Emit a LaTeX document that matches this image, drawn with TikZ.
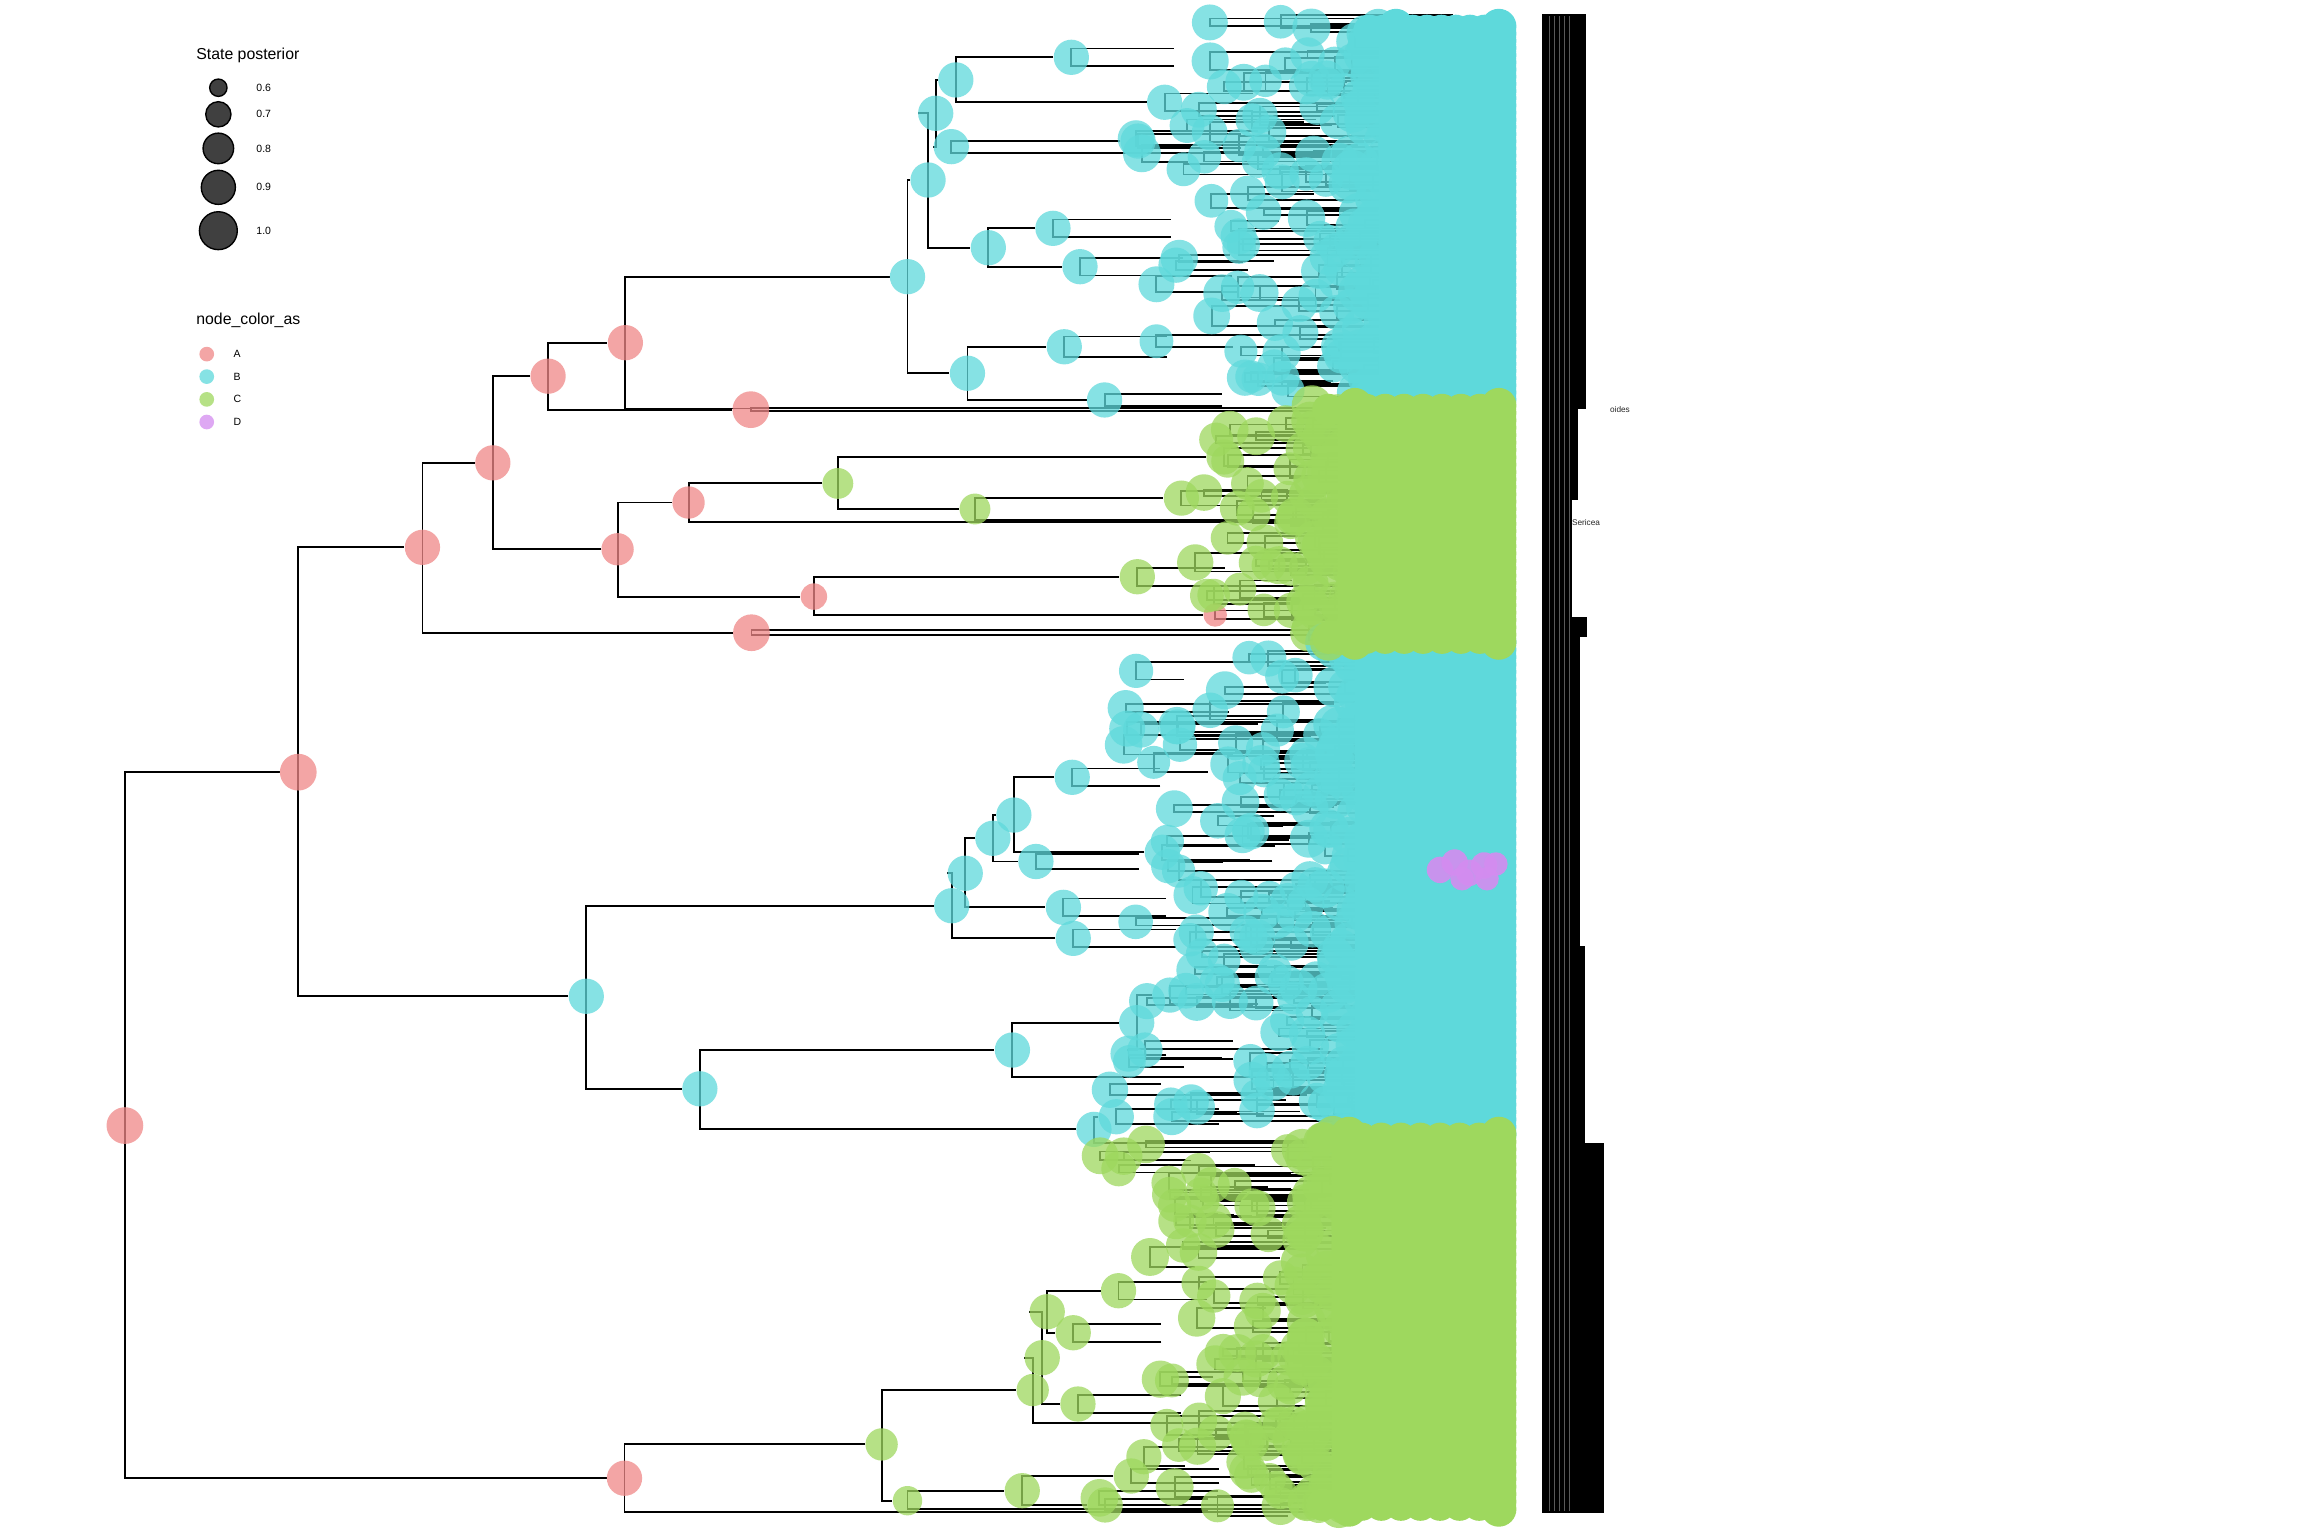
\documentclass[tikz,border=0pt]{standalone}
\usepackage{fontspec}
\setmainfont{Liberation Sans}
\usetikzlibrary{calc}
\definecolor{cA}{RGB}{240,136,135}
\definecolor{cB}{RGB}{94,217,219}
\definecolor{cC}{RGB}{158,216,94}
\definecolor{cD}{RGB}{212,140,240}
\pgfdeclarelayer{back}
\pgfdeclarelayer{bg}
\pgfsetlayers{back,bg,main}
\tikzset{
  branch/.style={line width=1.1pt, black},
  anc/.style={circle, fill=#1, fill opacity=0.75, draw=none, inner sep=0pt, minimum size=0.72cm},
  rad/.style={minimum size=#1*0.06cm},
  key/.style={circle, fill=black!75, draw=black, line width=0.8pt, inner sep=0pt},
  keytxt/.style={anchor=west, font=\fontsize{6.1}{7}\selectfont, inner sep=0pt},
  keyhead/.style={anchor=west, font=\fontsize{9.2}{11}\selectfont, inner sep=0pt},
  tiptxt/.style={anchor=west, font=\fontsize{4.8}{5}\selectfont, inner sep=0pt, text=black!85}
}
% two short lines to the right of a node
\newcommand{\tipstub}[3]{\draw[branch] ($(#1.center)+(#3,#2)$) -| ($(#1.center)+(0,-#2)$) -- ++(#3,0);}
% scattered descendants of one clade (#7=1: branches, #7=2: circles)
\newcommand{\cladecloud}[7]{%
  \foreach \k in {1,...,#6}{%
    \pgfmathsetmacro{\cy}{#1+(#2-#1)*rnd}%
    \pgfmathsetmacro{\cx}{#3+(#4+30-#3)*sqrt(rnd)}%
    \pgfmathsetmacro{\ch}{2+5*rnd}%
    \pgfmathsetmacro{\ca}{min(1030,\cx+25+140*rnd)}%
    \pgfmathsetmacro{\cb}{min(1030,\cx+25+140*rnd)}%
    \pgfmathsetmacro{\cr}{11+2*rnd}%
    \ifnum#7=1
      \draw[branch] (\ca,\cy-\ch) -| (\cx,\cy+\ch) -- (\cb,\cy+\ch);
    \else
      \fill[#5, fill opacity=0.75] (\cx,\cy) circle[radius=\cr];
    \fi
  }}
% the crowded tips of one clade
\newcommand{\cladeblob}[5]{%
  \fill[#4] (#3+16,#1) rectangle (1020,#2);
  \foreach \k in {0,...,#5}{%
    \pgfmathsetmacro{\by}{#1+(#2-#1)/#5*\k}%
    \pgfmathsetmacro{\bx}{#3-15+35*rnd}%
    \pgfmathsetmacro{\br}{12+2*rnd}%
    \fill[#4, fill opacity=0.8] (\bx,\by) circle[radius=\br];
    \fill[#4] (#3+18,\by) circle[radius=12];
    \fill[#4] (1020,\by) circle[radius=12];
  }
  \foreach \k in {0,...,9}{%
    \pgfmathsetmacro{\bx}{#3+(1020-#3)/9*\k}%
    \fill[#4] (\bx,#1+3) circle[radius=11];
    \fill[#4] (\bx,#2-3) circle[radius=11];
  }}

\begin{document}
\begin{tikzpicture}[x=0.03cm, y=-0.03cm]
\begin{pgfonlayer}{back}
  \fill[white] (0,0) rectangle (1568,1045);
\end{pgfonlayer}
\useasboundingbox (0,0) rectangle (1568,1045);

% legend: state posterior
\node[keyhead] (sp) at (133.4,37.4) {State posterior};
\foreach \v/\yy/\rr [count=\i] in {0.6/59.7/5.9, 0.7/77.8/8.6, 0.8/101/10.4, 0.9/127.5/11.6, 1.0/157/12.9}{
  \node[key, minimum size=2*\rr*0.03cm] (k\i) at (148.6,\yy) {};
  \node[keytxt] (kl\i) at (174.3,\yy) {\v};
}
% legend: colours
\node[keyhead] (nca) at (133.4,218.2) {node\_color\_as};
\foreach \s/\c/\yy in {A/cA/241, B/cB/256.3, C/cC/271.8, D/cD/287.2}{
  \node[anc=\c, minimum size=0.3cm] (d\s) at (140.7,\yy) {};
  \node[keytxt] (dl\s) at (158.7,\yy) {\s};
}

% backbone
\node[anc=cA, rad=12.5] (R)   at (85,766) {};
\node[anc=cA, rad=12.5] (N1)  at (203,525.5) {};
\node[anc=cA, rad=12]   (N2)  at (287.5,372.5) {};
\node[anc=cA, rad=12]   (N3)  at (335.4,315) {};
\node[anc=cA, rad=12]   (N4)  at (373,256) {};
\node[anc=cA, rad=12]   (N5)  at (425.6,233.2) {};
\node[anc=cA, rad=12.5] (N6)  at (511,278.8) {};
\node[anc=cA, rad=11]   (N7)  at (420.3,373.8) {};
\node[anc=cA, rad=11]   (N8)  at (468.6,342) {};
\node[anc=cA, rad=9]    (N9)  at (553.9,406) {};
\node[anc=cA, rad=12.5] (N10) at (511.4,430.6) {};
\node[anc=cA, rad=8]    (N11) at (827,418.5) {};
\node[anc=cA, rad=12]   (NA2) at (425,1006) {};
% top B clade
\node[anc=cB, rad=12] (NB1) at (617.6,188.3) {};
\node[anc=cB, rad=12] (T1)  at (631.6,122.5) {};
\node[anc=cB, rad=12] (T2)  at (658.4,254) {};
\node[anc=cB, rad=12] (T3)  at (636.8,77.1) {};
\node[anc=cB, rad=12] (T4)  at (672.6,168.6) {};
\node[anc=cB, rad=12] (T5)  at (650.5,54.4) {};
\node[anc=cB, rad=12] (T6)  at (647.4,99.8) {};
\node[anc=cB, rad=12] (T7)  at (729.1,39) {};
\node[anc=cB, rad=12] (T8)  at (792.6,69.6) {};
\node[anc=cB, rad=12] (T9)  at (774.5,96) {};
\node[anc=cB, rad=12] (T10) at (716.6,155.4) {};
\node[anc=cB, rad=12] (T11) at (735,181.5) {};
\node[anc=cB, rad=12] (T12) at (724.3,236) {};
\node[anc=cB, rad=12] (T13) at (751.7,272.2) {};
% upper C clade
\node[anc=cC, rad=10.5] (NC1) at (570.2,329) {};
\node[anc=cC, rad=10.5] (NC2) at (663.5,346.4) {};
\node[anc=cC, rad=12]   (NC6) at (774,392.5) {};
\node[anc=cC, rad=12]   (G1)  at (833,311) {};
\node[anc=cC, rad=12]   (G2)  at (804,339) {};
% middle B clade
\node[anc=cB, rad=12] (NB2) at (399,678) {};
\node[anc=cB, rad=12] (NB3) at (647.7,616.4) {};
\node[anc=cB, rad=12] (NB4) at (476.3,741) {};
\node[anc=cB, rad=12] (NB5) at (689,714.6) {};
\node[anc=cB, rad=12] (NB6) at (744.5,768.6) {};
\node[anc=cB, rad=12] (M1)  at (656.9,594.3) {};
\node[anc=cB, rad=12] (M2)  at (730.4,638.6) {};
\node[anc=cB, rad=12] (M3)  at (675.7,570.5) {};
\node[anc=cB, rad=12] (M4)  at (723.7,617.5) {};
\node[anc=cB, rad=12] (M5)  at (690,554.7) {};
\node[anc=cB, rad=12] (M6)  at (705,586.3) {};
\node[anc=cB, rad=12] (M7)  at (729.7,529) {};
\node[anc=cB, rad=12] (M12) at (791,580) {};
\node[anc=cB, rad=12] (M8)  at (773.6,696) {};
\node[anc=cB, rad=12] (M9)  at (796.2,677.2) {};
\node[anc=cB, rad=12] (M10) at (779.2,714.6) {};
\node[anc=cB, rad=12] (M11) at (759.7,760) {};
% lower C clade
\node[anc=cC, rad=11] (NC3) at (600,983) {};
\node[anc=cC, rad=11] (NC4) at (702.8,946) {};
\node[anc=cC, rad=10] (NC5) at (617.6,1021.3) {};
\node[anc=cC, rad=12] (G3)  at (709.3,924) {};
\node[anc=cC, rad=12] (G4)  at (712.7,892.7) {};
\node[anc=cC, rad=12] (G5)  at (733.6,955.5) {};
\node[anc=cC, rad=12] (G6)  at (761.2,878.4) {};
\node[anc=cC, rad=12] (G7)  at (730.4,907) {};
\node[anc=cC, rad=12] (G8)  at (695.7,1014.5) {};
\node[anc=cC, rad=12] (G9)  at (769.9,1004.5) {};
\node[anc=cC, rad=12] (G10) at (752.1,1024.2) {};

% tip ends of single lineages
\coordinate (x5)  at (1030,278);
\coordinate (x6)  at (1030,104.3);
\coordinate (x8)  at (1030,355);
\coordinate (xc2) at (1030,353.7);
\coordinate (xb5) at (1030,732.7);
\coordinate (xb6) at (1030,777.7);
\coordinate (xc4) at (1030,968.6);
\coordinate (xa2) at (1030,1029);
\coordinate (xc5) at (1030,1027);

\begin{pgfonlayer}{bg}
  \foreach \p/\c in {R/N1, R/NA2, N1/N2, N1/NB2, N2/N3, N2/N10, N3/N4, N3/N7, N4/N5, N4/N6,
      N5/NB1, N7/N8, N7/N9, N8/NC1, NC1/G1, NC1/NC2, NC2/G2, N9/NC6, N9/N11,
      NB1/T1, NB1/T2, T1/T3, T1/T4, T3/T5, T3/T6, T5/T7, T5/T8, T6/T9, T4/T10, T4/T11, T2/T12, T2/T13,
      NB2/NB3, NB2/NB4, NB3/M1, NB3/M2, M1/M3, M1/M4, M3/M5, M3/M6, M5/M7, M5/M12,
      NB4/NB5, NB4/NB6, NB5/M8, M8/M9, M8/M10, NB6/M11,
      NA2/NC3, NC3/NC4, NC3/NC5, NC4/G3, G3/G4, G3/G5, G4/G6, G4/G7, NC5/G8, G8/G9, G8/G10,
      N5/x5, T6/x6, N8/x8, NC2/xc2, NB5/xb5, NB6/xb6, NC4/xc4, NA2/xa2, NC5/xc5}
    {\draw[branch] (\p.center) |- (\c);}
  \foreach \n/\h/\lenx in {T7/6/70, T8/6/60, T9/5/70, T10/6/80, T11/6/70, T12/7/70, T13/4/80,
      G1/6/60, G2/5/60, NC6/6/60, N11/3/100, N6/1.2/520, N10/1.7/520,
      M2/6/70, M4/6/70, M6/5/70, M7/6/60, M12/5/60, M9/6/60, M10/6/60, M11/5/70,
      G5/6/70, G6/6/60, G7/6/60, G9/5/60, G10/4/70}
    {\tipstub{\n}{\h}{\lenx}}
  % branches of the crowded tips
  \pgfmathsetseed{2024}
  \cladecloud{14}{270}{760}{935}{cB}{130}{1}
  \cladecloud{283}{436}{790}{912}{cC}{80}{1}
  \cladecloud{440}{772}{735}{925}{cB}{170}{1}
  \cladecloud{778}{1026}{735}{910}{cC}{130}{1}
\end{pgfonlayer}

% crowded tips
\pgfmathsetseed{2024}
\cladecloud{14}{270}{760}{935}{cB}{130}{2}
\cladecloud{283}{436}{790}{912}{cC}{80}{2}
\cladecloud{440}{772}{735}{925}{cB}{170}{2}
\cladecloud{778}{1026}{735}{910}{cC}{130}{2}
\cladeblob{18}{272}{932}{cB}{52}
\cladeblob{437}{772}{916}{cB}{66}
\cladeblob{276}{437}{904}{cC}{32}
\cladeblob{772}{1027}{900}{cC}{50}
% D tips
\foreach \px/\py/\pr in {980/592/9, 990/587/9, 1000/594/9, 1010/589/9, 1018/588/8, 995/598/8, 1012/598/8}
  {\fill[cD, fill opacity=0.9] (\px,\py) circle[radius=\pr];}

% tip labels
\fill[black] (1049.6,9.5) rectangle (1079.4,278.5);
\fill[black] (1049.6,278.5) rectangle (1073.9,340);
\fill[black] (1049.6,340) rectangle (1069.5,419.7);
\fill[black] (1049.6,419.7) rectangle (1080,433.5);
\fill[black] (1049.6,433.5) rectangle (1075.3,644);
\fill[black] (1049.6,644) rectangle (1078.7,778);
\fill[black] (1049.6,778) rectangle (1091.6,1030);
\foreach \lx in {1054,1057.5,1061,1064.5,1068}
  {\draw[white, line width=0.25pt, opacity=0.35] (\lx,11) -- (\lx,1028);}
\node[tiptxt] (lab1) at (1095.5,278.5) {oides};
\node[tiptxt] (lab2) at (1069.6,355.7) {Sericea};
\end{tikzpicture}
\end{document}
